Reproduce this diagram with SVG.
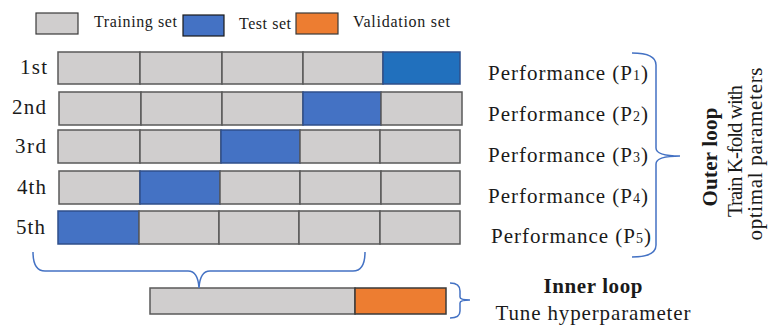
<svg xmlns="http://www.w3.org/2000/svg" width="769" height="326" viewBox="0 0 769 326">
<style>
.t{font-family:"Liberation Serif","Times New Roman",serif;fill:#1a1a1a}
.lg{font-size:16px}
.lb{font-size:21px}
.pf{font-size:21px}
.sub{font-size:14px}
.tr{fill:#d0cece;stroke:#5a5a5a;stroke-width:1.5}
.te{fill:#4472c4;stroke:#2f4f8a;stroke-width:1.5}
.te1{fill:#2170bd;stroke:#2f4f8a;stroke-width:1.5}
.va{fill:#ed7d31;stroke:#3a3a3a;stroke-width:1.5}
.br{fill:none;stroke:#4472c4;stroke-width:1.5}
</style>
<rect width="769" height="326" fill="#ffffff"/>
<g id="legend">
<rect x="36" y="13" width="42" height="21" fill="#d0cece" stroke="#3a3a3a" stroke-width="1.2"/>
<text class="t lg" x="94" y="27" textLength="83">Training set</text>
<rect x="183" y="15" width="41" height="21" fill="#4472c4" stroke="#1a1a1a" stroke-width="1.2"/>
<text class="t lg" x="239" y="29" textLength="52">Test set</text>
<rect x="296" y="13" width="42" height="21" fill="#ed7d31" stroke="#3a3a3a" stroke-width="1.2"/>
<text class="t lg" x="353" y="27" textLength="97">Validation set</text>
</g>
<g id="row1">
<text class="t lb" x="20" y="74" textLength="27">1st</text>
<rect class="tr" x="58" y="52" width="82" height="32"/>
<rect class="tr" x="140" y="52" width="82" height="32"/>
<rect class="tr" x="222" y="52" width="81" height="32"/>
<rect class="tr" x="303" y="52" width="80" height="32"/>
<rect class="te1" x="383" y="52" width="77" height="32"/>
</g>
<g id="row2">
<text class="t lb" x="12" y="114" textLength="34">2nd</text>
<rect class="tr" x="59" y="92" width="82" height="33"/>
<rect class="tr" x="141" y="92" width="81" height="33"/>
<rect class="tr" x="222" y="92" width="81" height="33"/>
<rect class="te" x="303" y="92" width="78" height="33"/>
<rect class="tr" x="381" y="92" width="81" height="33"/>
</g>
<g id="row3">
<text class="t lb" x="15" y="153" textLength="31">3rd</text>
<rect class="tr" x="58" y="130" width="82" height="33"/>
<rect class="tr" x="140" y="130" width="81" height="33"/>
<rect class="te" x="221" y="130" width="79" height="33"/>
<rect class="tr" x="300" y="130" width="80" height="33"/>
<rect class="tr" x="380" y="130" width="80" height="33"/>
</g>
<g id="row4">
<text class="t lb" x="17" y="194" textLength="29">4th</text>
<rect class="tr" x="59" y="171" width="81" height="33"/>
<rect class="te" x="140" y="171" width="80" height="33"/>
<rect class="tr" x="220" y="171" width="80" height="33"/>
<rect class="tr" x="300" y="171" width="81" height="33"/>
<rect class="tr" x="381" y="171" width="79" height="33"/>
</g>
<g id="row5">
<text class="t lb" x="16" y="234" textLength="29">5th</text>
<rect class="te" x="58" y="211" width="81" height="33"/>
<rect class="tr" x="139" y="211" width="80" height="33"/>
<rect class="tr" x="219" y="211" width="80" height="33"/>
<rect class="tr" x="299" y="211" width="81" height="33"/>
<rect class="tr" x="380" y="211" width="80" height="33"/>
</g>
<g id="performance">
<text class="t pf" x="488" y="80" textLength="160">Performance (P<tspan class="sub">1</tspan>)</text>
<text class="t pf" x="488" y="121" textLength="160">Performance (P<tspan class="sub">2</tspan>)</text>
<text class="t pf" x="488" y="162" textLength="160">Performance (P<tspan class="sub">3</tspan>)</text>
<text class="t pf" x="488" y="203" textLength="160">Performance (P<tspan class="sub">4</tspan>)</text>
<text class="t pf" x="491" y="243" textLength="160">Performance (P<tspan class="sub">5</tspan>)</text>
</g>
<g id="inner-bar">
<rect class="tr" x="150" y="288" width="205" height="26" stroke="#1a1a1a"/>
<rect class="va" x="355" y="288" width="91" height="26"/>
</g>
<g id="outer-label">
<text class="t" font-size="21" font-weight="bold" text-anchor="middle" textLength="99" transform="translate(717,157) rotate(-90)">Outer loop</text>
<text class="t" font-size="21" text-anchor="middle" textLength="132" transform="translate(742,151) rotate(-90)">Train K-fold with</text>
<text class="t" font-size="21" text-anchor="middle" textLength="173" transform="translate(762,154) rotate(-90)">optimal parameters</text>
</g>
<g id="inner-label">
<text class="t" font-size="21" font-weight="bold" text-anchor="middle" x="593" y="293" textLength="99">Inner loop</text>
<text class="t" font-size="21" text-anchor="middle" x="593" y="320" textLength="195">Tune hyperparameter</text>
</g>
<g id="connectors">
<path class="br" d="M33,252 Q33,271 45,271 L188,271 Q198,271 199,288 Q200,271 210,271 L353,271 Q365,271 365,252"/>
<path class="br" d="M632,53 Q656,53 656,65 L656,148 Q656,156 680,156 Q656,156 656,164 L656,245 Q656,257 632,257"/>
<path class="br" d="M450,283 Q460,283 460,291 L460,297 Q460,300 470,300 Q460,300 460,303 L460,311 Q460,318 450,318"/>
</g>
</svg>
